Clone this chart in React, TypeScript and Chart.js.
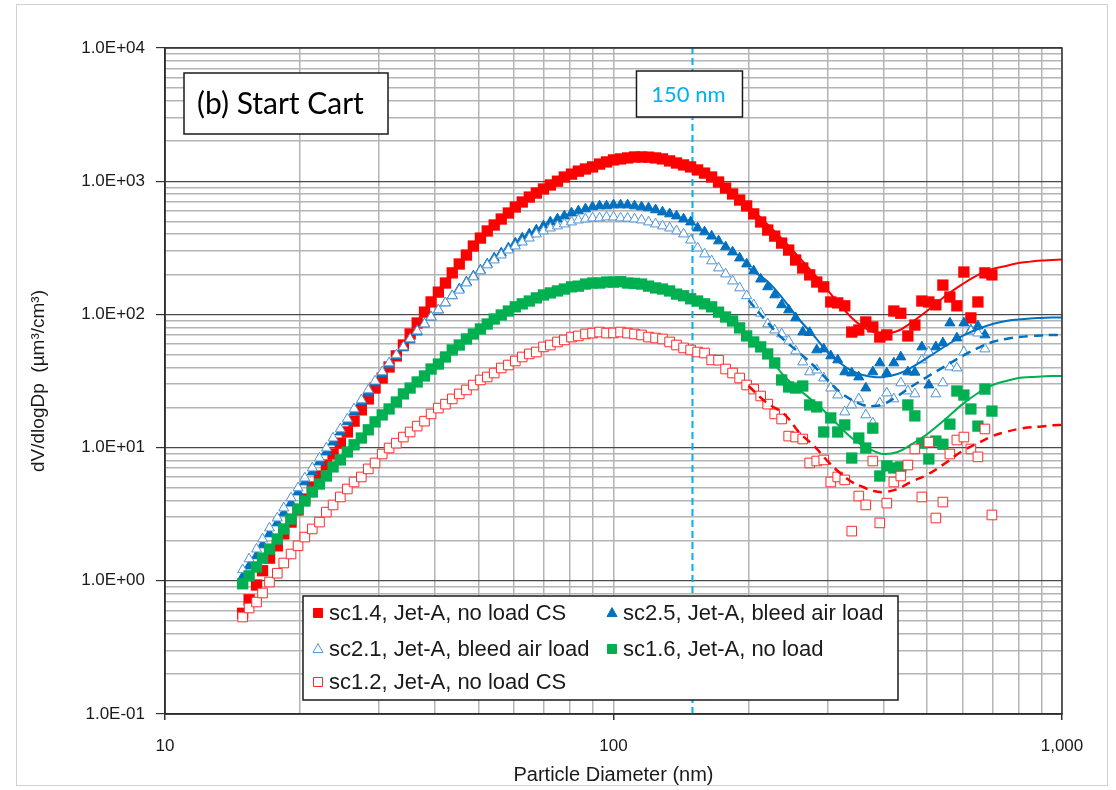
import React, { useEffect, useRef } from 'react';
import { Chart, registerables } from 'chart.js';

Chart.register(...registerables);

// SMPS channel mid-point diameters (nm), 64 channels per decade
const diameters = [
  14.9, 15.4, 16.0, 16.5, 17.1, 17.8, 18.4, 19.1, 19.8, 20.5,
  21.3, 22.1, 22.9, 23.7, 24.6, 25.5, 26.4, 27.4, 28.4, 29.4,
  30.5, 31.6, 32.8, 34.0, 35.2, 36.5, 37.9, 39.2, 40.7, 42.2,
  43.7, 45.3, 47.0, 48.7, 50.5, 52.3, 54.2, 56.2, 58.3, 60.4,
  62.6, 64.9, 67.3, 69.8, 72.3, 75.0, 77.7, 80.6, 83.5, 86.6,
  89.8, 93.1, 96.5, 100.0, 103.7, 107.5, 111.4, 115.5, 119.7, 124.1,
  128.6, 133.4, 138.2, 143.3, 148.6, 154.0, 159.6, 165.5, 171.5, 177.8,
  184.3, 191.1, 198.1, 205.4, 212.9, 220.7, 228.8, 237.1, 245.8, 254.8,
  264.2, 273.8, 283.9, 294.3, 305.1, 316.2, 327.8, 339.8, 352.3, 365.2,
  378.6, 392.4, 406.8, 421.7, 437.1, 453.2, 469.8, 487.0, 504.8, 523.3,
  542.5, 562.3, 582.9, 604.3, 626.4, 649.4, 673.2, 697.8,
];

// dV/dlogDp (µm³/cm³) per channel
const sc14 = [
  0.57, 0.72, 0.93, 1.19, 1.48, 1.83, 2.25, 2.76, 3.40, 4.11,
  5.06, 6.12, 7.40, 8.95, 10.8, 13.1, 15.8, 19.2, 23.2, 28.0,
  33.3, 40.3, 48.8, 58.9, 71.3, 86.2, 104, 124, 147, 172,
  205, 239, 279, 326, 374, 423, 469, 520, 577, 640,
  698, 760, 815, 874, 937, 1000, 1075, 1130, 1190, 1235,
  1280, 1345, 1395, 1445, 1470, 1495, 1520, 1520, 1515, 1495,
  1470, 1420, 1370, 1325, 1280, 1215, 1150, 1075, 986, 888,
  802, 722, 652, 568, 494, 430, 387, 343, 304, 256,
  223, 198, 175, 161, 124, 122, 116, 73.7, 76.3, 87.7,
  80.5, 67.6, 70.1, 106, 102, 68.9, 83.2, 126, 124, 118,
  166, 135, 116, 208, 94.1, 124, 205, 198,
];

const sc25 = [
  1.07, 1.29, 1.54, 1.86, 2.25, 2.72, 3.23, 3.83, 4.64, 5.52,
  6.56, 7.80, 9.27, 11.0, 13.1, 15.6, 18.5, 22.0, 25.7, 30.6,
  35.7, 41.7, 48.8, 56.0, 64.3, 73.7, 84.7, 95.6, 108, 122,
  138, 155, 175, 194, 215, 239, 265, 289, 315, 343,
  374, 401, 430, 461, 494, 520, 548, 577, 598, 619,
  641, 652, 652, 663, 663, 663, 652, 641, 630, 609,
  587, 568, 548, 520, 494, 445, 416, 387, 356, 321,
  294, 265, 239, 212, 184, 161, 140, 118, 108, 94.1,
  73.7, 73.0, 54.1, 55.0, 48.8, 45.5, 37.0, 36.3, 33.9, 28.0,
  37.0, 43.2, 36.3, 43.2, 47.9, 37.0, 36.8, 57.0, 29.5, 57.0,
  61.0, 86.2, 66.5, 86.2, 76.3, 81.8, 70.1, null,
];

const sc21 = [
  1.21, 1.46, 1.73, 2.06, 2.49, 2.96, 3.52, 4.19, 4.98, 5.91,
  7.03, 8.35, 9.93, 11.8, 13.8, 16.4, 19.5, 22.8, 27.1, 31.6,
  37.0, 43.2, 49.6, 57.0, 65.4, 75.0, 84.7, 95.6, 108, 122,
  138, 152, 172, 191, 212, 235, 256, 279, 304, 326,
  349, 374, 401, 423, 445, 461, 477, 494, 511, 520,
  529, 529, 538, 538, 529, 527, 520, 511, 494, 477,
  461, 445, 423, 401, 361, 315, 284, 252, 223, 201,
  178, 158, 138, 118, 102, 84.7, 76.3, 71.3, 63.2, 53.1,
  43.9, 37.0, 38.2, 33.3, 28.0, 24.8, 18.5, 20.9, 23.2, 17.6,
  15.3, 21.6, 25.7, 23.2, 30.6, 26.6, 25.3, 45.5, 52.2, 25.3,
  30.6, 40.3, 39.6, 52.2, 75.0, 72.4, 55.0, null,
];

const sc16 = [
  0.95, 1.09, 1.27, 1.48, 1.73, 2.06, 2.45, 2.91, 3.46, 3.97,
  4.64, 5.33, 6.12, 7.16, 8.08, 9.27, 10.5, 11.8, 13.6, 15.6,
  17.6, 19.5, 22.0, 25.3, 28.0, 31.1, 34.5, 38.9, 42.4, 47.9,
  54.1, 58.9, 65.4, 71.3, 77.7, 84.7, 92.4, 99.0, 106, 114,
  120, 126, 133, 140, 145, 150, 155, 161, 163, 169,
  172, 172, 175, 175, 176, 172, 171, 169, 163, 158,
  155, 150, 142, 138, 131, 126, 120, 114, 104, 95.6,
  89.2, 79.2, 68.9, 62.1, 57.0, 50.5, 43.2, 32.2, 28.5, 28.0,
  29.0, 20.9, 20.2, 13.1, 16.7, 13.1, 14.8, 8.35, 11.8, 9.93,
  14.0, 6.12, 7.29, 7.03, 7.16, 20.9, 17.3, 10.8, 8.22, 11.2,
  10.6, 15.0, 26.6, 24.8, 19.5, 14.5, 27.5, 18.8,
];

const sc12 = [
  0.535, 0.625, 0.693, 0.810, 0.979, 1.14, 1.36, 1.59, 1.83, 2.13,
  2.45, 2.76, 3.28, 3.71, 4.26, 4.89, 5.52, 6.02, 6.92, 7.67,
  8.95, 9.93, 10.8, 12.0, 13.1, 14.5, 15.8, 17.9, 19.8, 21.2,
  23.2, 25.3, 27.1, 29.5, 32.2, 33.9, 36.3, 39.6, 41.7, 44.7,
  47.9, 50.5, 52.2, 57.0, 58.9, 62.1, 64.3, 67.6, 68.9, 71.3,
  72.4, 73.7, 72.4, 72.6, 73.7, 72.4, 71.3, 70.1, 67.6, 66.5,
  65.4, 62.1, 58.9, 56.0, 54.1, 52.2, 51.3, 45.5, 45.3, 38.9,
  36.3, 33.3, 29.5, 27.5, 24.4, 21.2, 17.9, 16.4, 12.2, 12.0,
  11.6, 7.67, 7.93, 8.08, 5.52, 6.02, 5.72, 2.36, 4.33, 3.71,
  7.93, 2.72, 3.83, 5.52, 6.12, 7.40, 9.77, 4.26, 11.0, 2.96,
  3.90, 8.95, 11.4, 12.0, 9.77, 8.52, 13.8, 3.12,
];

// Fitted size distributions (nm, µm³/cm³)
const fitDiameters = [200, 220, 240, 260, 280, 300, 320, 340, 360, 380, 400, 430, 460, 500, 550, 600, 650, 700, 750, 800, 850, 900, 950, 1000];
const fit14 = [652, 477, 356, 265, 201, 152, 118, 94.1, 80.5, 73.7, 71.3, 75.0, 86.2, 106, 138, 169, 198, 219, 231, 243, 249, 254, 256, 258];
const fit25 = [223, 178, 128, 90.8, 68.9, 52.2, 43.2, 37.6, 35.1, 33.9, 33.9, 35.7, 39.6, 47.1, 57.9, 68.9, 77.7, 84.7, 89.2, 91.6, 93.2, 94.1, 94.9, 94.9];
const fit21 = [128, 87.7, 64.3, 51.3, 41.0, 32.2, 26.1, 22.8, 20.9, 20.5, 21.2, 24.4, 28.5, 33.9, 41.0, 48.8, 56.0, 62.1, 65.4, 67.6, 68.9, 69.5, 70.1, 70.1];
const fit16 = [67.6, 49.6, 34.5, 27.1, 22.0, 17.9, 14.3, 11.8, 10.3, 9.44, 8.95, 9.27, 10.5, 12.6, 16.4, 21.2, 25.7, 29.5, 31.6, 33.3, 33.9, 34.2, 34.5, 34.5];
const fit12 = [29.0, 21.6, 17.9, 12.9, 10.3, 7.93, 6.45, 5.52, 5.06, 4.72, 4.64, 4.89, 5.52, 6.23, 7.67, 9.44, 10.8, 12.2, 13.1, 13.8, 14.2, 14.4, 14.7, 14.8];

const seriesNames = [
  'sc1.4, Jet-A, no load CS',
  'sc2.5, Jet-A, bleed air load',
  'sc2.1, Jet-A, bleed air load',
  'sc1.6, Jet-A, no load',
  'sc1.2, Jet-A, no load CS',
];

const xMajorTicks = [10, 100, 1000];
const xTickLabels = ['10', '100', '1,000'];
const yMajorTicks = [0.1, 1, 10, 100, 1000, 10000];
const yTickLabels = ['1.0E-01', '1.0E+00', '1.0E+01', '1.0E+02', '1.0E+03', '1.0E+04'];

const cutoffDiameter = 150;
const cutoffLabel = '150 nm';
const panelTitle = '(b) Start Cart';
const xTitle = 'Particle Diameter (nm)';
const yTitle = 'dV/dlogDp  (µm³/cm³)';

const RED = '#FF0000';
const OPEN_RED = '#FF2A2A';
const BLUE = '#0070C0';
const LIGHT_BLUE = '#4F93D2';
const GREEN = '#00B050';
const CYAN = '#00B0F0';
const TEXT = '#1a1a1a';
const SANS = '"Liberation Sans", Arial, sans-serif';

type MarkerStyle = { shape: 'rect' | 'triangle'; fill: string; stroke: string };
const markerStyles: MarkerStyle[] = [
  { shape: 'rect', fill: RED, stroke: RED },
  { shape: 'triangle', fill: BLUE, stroke: BLUE },
  { shape: 'triangle', fill: '#FFFFFF', stroke: LIGHT_BLUE },
  { shape: 'rect', fill: GREEN, stroke: GREEN },
  { shape: 'rect', fill: '#FFFFFF', stroke: OPEN_RED },
];

const withMinors = (majors: number[]) => {
  const out: number[] = [];
  for (let i = 0; i < majors.length - 1; i++) {
    for (let m = 1; m < 10; m++) out.push(majors[i] * m);
  }
  out.push(majors[majors.length - 1]);
  return out;
};

const majorIndex = (v: number, majors: number[]) =>
  majors.findIndex((t) => Math.abs(v - t) / t < 1e-6);

const points = (xs: number[], ys: (number | null)[]) =>
  xs.map((x, i) => ({ x, y: ys[i] })).filter((p) => p.y !== null && p.y !== undefined);

function drawBox(ctx: CanvasRenderingContext2D, x: number, y: number, w: number, h: number) {
  ctx.fillStyle = '#FFFFFF';
  ctx.fillRect(x, y, w, h);
  ctx.strokeStyle = '#1a1a1a';
  ctx.lineWidth = 1.5;
  ctx.strokeRect(x, y, w, h);
}

function drawMarker(ctx: CanvasRenderingContext2D, s: MarkerStyle, x: number, y: number, size: number) {
  ctx.beginPath();
  if (s.shape === 'rect') {
    ctx.rect(x - size / 2, y - size / 2, size, size);
  } else {
    const h = size * 0.9;
    ctx.moveTo(x, y - h * 0.6);
    ctx.lineTo(x + size / 2, y + h * 0.4);
    ctx.lineTo(x - size / 2, y + h * 0.4);
    ctx.closePath();
  }
  ctx.fillStyle = s.fill;
  ctx.fill();
  ctx.strokeStyle = s.stroke;
  ctx.lineWidth = 1;
  ctx.stroke();
}

const overlayPlugin = {
  id: 'overlay',
  beforeDraw(chart: any) {
    const { ctx, width, height } = chart;
    ctx.save();
    ctx.fillStyle = '#FFFFFF';
    ctx.fillRect(0, 0, width, height);
    ctx.strokeStyle = '#D0D0D0';
    ctx.lineWidth = 1;
    ctx.strokeRect(16.5, 4.5, width - 25, height - 9);
    ctx.restore();
  },
  afterDatasetsDraw(chart: any) {
    const { ctx, chartArea: a } = chart;
    const xs = chart.scales.x;
    ctx.save();
    // plot frame
    ctx.strokeStyle = '#333333';
    ctx.lineWidth = 1.5;
    ctx.strokeRect(a.left, a.top, a.right - a.left, a.bottom - a.top);

    // panel title
    drawBox(ctx, 184, 73, 204, 61);
    ctx.font = '30px Lato, "Open Sans", sans-serif';
    ctx.fillStyle = '#000000';
    ctx.textAlign = 'left';
    ctx.textBaseline = 'middle';
    ctx.fillText(panelTitle, 197, 104);

    // cut-off label
    const cx = xs.getPixelForValue(cutoffDiameter);
    drawBox(ctx, cx - 56, 71, 106, 46);
    ctx.font = '22px Lato, "Open Sans", sans-serif';
    ctx.fillStyle = CYAN;
    ctx.textAlign = 'center';
    ctx.fillText(cutoffLabel, cx - 4, 95);

    // legend
    const lx = 303, ly = 596, lw = 595, lh = 104;
    drawBox(ctx, lx, ly, lw, lh);
    const rows = [613, 649, 682];
    const cols = [318, 612];
    ctx.font = `22px ${SANS}`;
    ctx.textAlign = 'left';
    ctx.textBaseline = 'middle';
    seriesNames.forEach((name, i) => {
      const r = Math.floor(i / 2);
      const c = i % 2;
      const st = markerStyles[i];
      drawMarker(ctx, st, cols[c], rows[r], st.shape === 'rect' ? 9 : 10);
      ctx.fillStyle = TEXT;
      ctx.fillText(name, cols[c] + 11, rows[r] + 1);
    });
    ctx.restore();
  },
};

export default function App() {
  const ref = useRef<HTMLCanvasElement>(null);

  useEffect(() => {
    const canvas = ref.current;
    if (!canvas) return;

    const markerSet = (i: number, ys: (number | null)[], radius: number, borderWidth: number, order: number) => ({
      label: seriesNames[i],
      data: points(diameters, ys),
      showLine: false,
      pointStyle: markerStyles[i].shape,
      pointRadius: radius,
      pointBackgroundColor: markerStyles[i].fill,
      pointBorderColor: markerStyles[i].stroke,
      pointBorderWidth: borderWidth,
      backgroundColor: markerStyles[i].fill,
      borderColor: markerStyles[i].stroke,
      order,
    });

    const fitSet = (ys: number[], color: string, dash: number[], order: number) => ({
      label: '',
      data: points(fitDiameters, ys),
      showLine: true,
      pointRadius: 0,
      borderColor: color,
      borderWidth: dash.length ? 2.5 : 2,
      borderDash: dash,
      tension: 0.4,
      fill: false,
      order,
    });

    const chart = new Chart(canvas, {
      type: 'scatter',
      data: {
        datasets: [
          {
            label: cutoffLabel,
            data: [{ x: cutoffDiameter, y: 0.1 }, { x: cutoffDiameter, y: 10000 }],
            showLine: true,
            pointRadius: 0,
            borderColor: CYAN,
            borderWidth: 2,
            borderDash: [7, 4],
            order: 20,
          } as any,
          markerSet(0, sc14, 8, 0, 10),
          markerSet(1, sc25, 5.8, 1, 9),
          markerSet(2, sc21, 5.8, 1, 8),
          markerSet(3, sc16, 8, 0, 7),
          markerSet(4, sc12, 6.8, 1, 6),
          fitSet(fit14, RED, [], 5),
          fitSet(fit25, BLUE, [], 4),
          fitSet(fit21, BLUE, [9, 6], 3),
          fitSet(fit16, GREEN, [], 2),
          fitSet(fit12, RED, [9, 6], 1),
        ],
      },
      options: {
        animation: false,
        responsive: false,
        devicePixelRatio: 1,
        events: [],
        layout: { padding: { left: 0, right: 54, top: 48, bottom: 0 } },
        plugins: {
          legend: { display: false },
          tooltip: { enabled: false },
        },
        scales: {
          x: {
            type: 'logarithmic',
            min: 10,
            max: 1000,
            afterBuildTicks: (s: any) => {
              s.ticks = withMinors(xMajorTicks).map((value) => ({ value }));
            },
            afterFit: (s: any) => {
              s.height = 76;
            },
            ticks: {
              autoSkip: false,
              maxRotation: 0,
              padding: 16,
              color: TEXT,
              font: { family: SANS, size: 17 },
              callback: (v: any) => {
                const k = majorIndex(Number(v), xMajorTicks);
                return k >= 0 ? xTickLabels[k] : '';
              },
            },
            grid: {
              color: '#B4B4B4',
              lineWidth: 1.5,
              tickLength: 6,
              tickColor: (c: any) =>
                c.tick && majorIndex(c.tick.value, xMajorTicks) >= 0 ? '#333333' : 'rgba(0,0,0,0)',
            },
            border: { color: '#1a1a1a', width: 1.5 },
            title: {
              display: true,
              text: xTitle,
              color: TEXT,
              font: { family: SANS, size: 20 },
              padding: { top: 0, bottom: 3 },
            },
          },
          y: {
            type: 'logarithmic',
            min: 0.1,
            max: 10000,
            afterBuildTicks: (s: any) => {
              s.ticks = withMinors(yMajorTicks).map((value) => ({ value }));
            },
            afterFit: (s: any) => {
              s.width = 165;
            },
            ticks: {
              autoSkip: false,
              padding: 11,
              color: TEXT,
              font: { family: SANS, size: 17 },
              callback: (v: any) => {
                const k = majorIndex(Number(v), yMajorTicks);
                return k >= 0 ? yTickLabels[k] : '';
              },
            },
            grid: {
              color: (c: any) =>
                c.tick && majorIndex(c.tick.value, yMajorTicks) >= 0 ? '#4a4a4a' : '#B4B4B4',
              lineWidth: (c: any) =>
                c.tick && majorIndex(c.tick.value, yMajorTicks) >= 0 ? 1.2 : 1.5,
              tickLength: 9,
              tickColor: (c: any) =>
                c.tick && majorIndex(c.tick.value, yMajorTicks) >= 0 ? '#333333' : 'rgba(0,0,0,0)',
            },
            border: { color: '#1a1a1a', width: 1.5 },
            title: {
              display: true,
              text: yTitle,
              color: TEXT,
              font: { family: SANS, size: 19 },
              padding: { top: 27, bottom: 0 },
            },
          },
        },
      },
      plugins: [overlayPlugin],
    } as any);

    return () => chart.destroy();
  }, []);

  return (
    <div style={{ position: 'absolute', left: 0, top: 0, width: 1116, height: 790, background: '#fff' }}>
      <canvas ref={ref} width={1116} height={790} style={{ width: 1116, height: 790, display: 'block' }} />
    </div>
  );
}
